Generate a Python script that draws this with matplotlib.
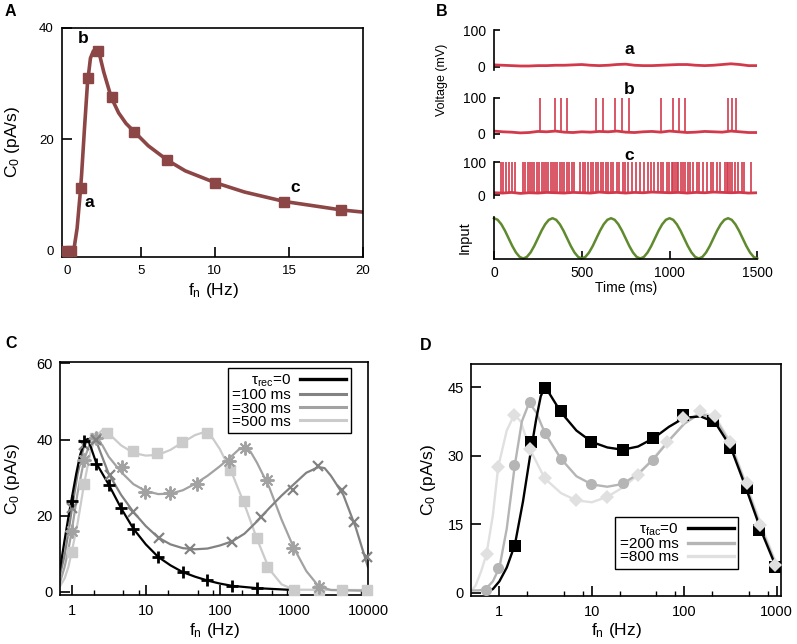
import matplotlib
matplotlib.use("Agg")
import matplotlib.pyplot as plt
import numpy as np
from matplotlib.lines import Line2D
from matplotlib.ticker import FixedLocator, NullFormatter, FixedFormatter

plt.rcParams['font.family'] = ['Liberation Sans', 'DejaVu Sans']
plt.rcParams['mathtext.fontset'] = 'custom'
plt.rcParams['mathtext.rm'] = 'Liberation Sans'
plt.rcParams['mathtext.it'] = 'Liberation Sans:italic'
plt.rcParams['mathtext.default'] = 'regular'

# ---------------- data ----------------
# panel A: C0 vs fn (linear)
a_marker_f = [0.0, 0.3, 0.95, 1.45, 2.1, 3.05, 4.55, 6.75, 10.0, 14.7, 18.5]
a_marker_c = [0.0, 0.0, 11.3, 31.0, 35.7, 27.5, 21.3, 16.3, 12.2, 8.8, 7.2]
a_curve_f = [0.0, 0.3, 0.5, 0.7, 0.9, 1.0, 1.2, 1.4, 1.6, 1.8, 2.0, 2.2, 2.5,
             3.0, 3.5, 4.0, 4.6, 5.5, 6.8, 8.0, 10.0, 12.0, 14.7, 17.0, 18.5, 20.0]
a_curve_c = [0.0, 0.0, 0.5, 4.0, 10.0, 13.5, 22.0, 30.0, 34.5, 35.8, 36.0, 35.3, 32.0,
             27.5, 24.7, 22.8, 21.2, 18.8, 16.2, 14.3, 12.2, 10.5, 8.8, 7.9, 7.3, 6.9]

# panel B: voltage traces (baseline every 50 ms) and spike times (ms)
trace_t = list(range(0, 1501, 50))
trace_a = [5, 4, 3, 2, 2, 3, 3, 4, 4, 5, 6, 4, 3, 4, 6, 7, 4, 3, 3, 4, 5, 6, 6, 4, 3, 4, 6, 8, 6, 3, 3]
trace_b = [8, 6, 5, 3, 4, 7, 6, 8, 5, 4, 6, 5, 7, 6, 8, 5, 4, 6, 7, 5, 8, 6, 4, 5, 7, 6, 5, 8, 6, 4, 4]
trace_c = [7, 6, 8, 5, 7, 6, 8, 7, 6, 8, 7, 6, 9, 7, 8, 6, 8, 7, 9, 8, 7, 8, 6, 8, 7, 9, 8, 7, 8, 6, 7]
spikes_b = [262, 347, 380, 414, 581, 622, 689, 731, 770, 954, 1021, 1055, 1087, 1334, 1357, 1378]
spikes_c = [38, 53, 68, 87, 102, 118,
            163, 177, 192, 205, 218, 230, 243, 258, 272, 285, 296, 309, 323, 334, 347, 361,
            376, 387, 400, 414, 429, 442, 456, 490, 505, 520, 537, 552, 566, 581, 594, 607,
            623, 638, 651, 665, 680, 699, 714, 733, 748, 765, 784, 807, 832, 857, 875, 894,
            913, 932, 951, 965, 984, 999, 1012, 1021, 1031, 1040, 1050, 1065, 1079, 1088,
            1103, 1116, 1135, 1154, 1168, 1192, 1211, 1236, 1249, 1268, 1287, 1316, 1325,
            1335, 1344, 1354, 1373, 1392, 1411, 1426, 1464]
# input: one read cycle (period 333 ms, 16 samples), repeated
input_cycle = [1.0, 0.96, 0.85, 0.69, 0.5, 0.31, 0.15, 0.04, 0.0, 0.04, 0.15, 0.31, 0.5, 0.69, 0.85, 0.96]
input_t = np.linspace(0, 1500, 73)
input_v = np.tile(input_cycle, 5)[:73]

# panel C: depression, tau_rec = 0, 100, 300, 500 ms
c_labels = [r'$\tau_{\rm rec}$=0', '=100 ms', '=300 ms', '=500 ms']
c0_mf = [1.0, 1.47, 2.15, 3.16, 4.64, 6.81, 14.7, 31.6, 68.1, 147, 316]
c0_mc = [24.0, 39.7, 33.6, 28.2, 22.0, 16.5, 9.2, 5.3, 3.1, 1.6, 1.0]
c0_cf = [0.695, 0.8, 0.9, 1.0, 1.15, 1.3, 1.5, 1.65, 1.8, 2.15, 3.16, 4.64, 6.81, 10, 14.7, 21.5,
         31.6, 46.4, 68.1, 100, 147, 316, 1000]
c0_cc = [6.0, 13.5, 19.5, 24.5, 31.0, 36.0, 39.7, 40.2, 38.2, 33.8, 28.2, 22.0, 16.6, 12.5, 9.2, 7.0,
         5.2, 4.0, 3.0, 2.2, 1.6, 1.0, 0.5]
c1_mf = [1.0, 1.47, 2.15, 3.3, 6.8, 15.3, 39, 145, 362, 985, 2090, 4450, 6500, 9700]
c1_mc = [22.0, 38.5, 40.0, 30.8, 21.1, 14.2, 11.3, 13.1, 19.6, 26.9, 33.0, 26.9, 18.3, 9.2]
c1_cf = [0.695, 0.8, 0.9, 1.0, 1.2, 1.47, 1.8, 2.15, 3.16, 4.64, 6.81, 10, 14.7, 21.5, 31.6, 46.4,
         68.1, 100, 147, 215, 316, 464, 681, 1000, 1468, 2154, 2600, 3162, 4642, 6813, 10000]
c1_cc = [4.5, 9.5, 15.5, 21.5, 31.0, 38.5, 40.5, 39.5, 31.0, 25.5, 21.0, 17.3, 14.3, 12.5, 11.5, 11.2,
         11.4, 12.2, 13.3, 15.3, 18.5, 22.0, 25.3, 28.3, 31.3, 32.8, 32.5, 30.5, 25.5, 17.0, 6.5]
c2_mf = [1.0, 1.47, 2.15, 4.74, 9.8, 21.3, 49, 131, 219, 430, 985, 2150]
c2_mc = [16.0, 34.7, 40.3, 32.8, 26.2, 26.1, 28.4, 34.3, 37.7, 29.5, 11.5, 1.4]
c2_cf = [0.695, 0.8, 0.9, 1.0, 1.2, 1.47, 1.8, 2.15, 2.6, 3.16, 4.64, 6.81, 10, 14.7, 21.5, 31.6,
         46.4, 68.1, 100, 147, 180, 220, 260, 316, 464, 681, 1000, 1468, 2154, 3162, 10000]
c2_cc = [2.5, 6.5, 11.0, 16.0, 26.0, 34.7, 39.5, 40.3, 38.5, 35.5, 31.5, 28.3, 26.5, 25.7, 25.8, 26.7,
         28.4, 30.5, 33.0, 35.8, 37.4, 37.8, 36.8, 34.0, 27.5, 19.0, 11.5, 5.5, 1.5, 0.5, 0.3]
c3_mf = [1.0, 1.48, 2.07, 2.97, 6.8, 14.1, 30.7, 66.5, 138, 209, 315, 430, 990, 2150, 4450, 9700]
c3_mc = [10.5, 28.4, 40.5, 41.8, 36.9, 36.4, 39.5, 41.8, 32.1, 23.9, 14.1, 6.6, 0.5, 0.5, 0.5, 0.5]
c3_cf = [0.695, 0.8, 0.9, 1.0, 1.2, 1.47, 1.8, 2.15, 2.6, 3.16, 4.64, 6.81, 10, 14.7, 21.5, 31.6,
         46.4, 60, 75, 100, 147, 215, 316, 464, 681, 1000, 10000]
c3_cc = [1.5, 3.5, 6.5, 10.5, 18.0, 28.4, 37.0, 41.0, 42.5, 41.6, 38.5, 36.5, 35.8, 36.0, 37.3, 39.3,
         41.2, 41.9, 41.2, 37.5, 31.0, 23.0, 14.0, 6.0, 2.0, 0.6, 0.5]

# panel D: facilitation, tau_fac = 0, 200, 800 ms
d_labels = [r'$\tau_{\rm fac}$=0', '=200 ms', '=800 ms']
d0_mf = [1.47, 2.17, 3.1, 4.63, 9.7, 21.5, 46.2, 97.5, 205, 311, 473, 646, 956]
d0_mc = [10.2, 33.1, 44.8, 39.7, 33.1, 31.3, 33.8, 38.9, 37.5, 31.6, 22.9, 13.7, 5.7]
d0_cf = [0.7, 0.85, 1.0, 1.2, 1.47, 1.8, 2.15, 2.5, 2.8, 3.1, 3.5, 4.64, 6.81, 10, 14.7, 21.5, 31.6,
         46.4, 68.1, 100, 150, 215, 316, 464, 681, 1000]
d0_cc = [0.0, 0.8, 2.5, 5.5, 10.5, 20.0, 30.0, 38.0, 43.0, 45.0, 43.5, 39.5, 35.5, 33.0, 31.8, 31.3,
         32.0, 33.8, 36.3, 38.3, 38.6, 37.3, 32.0, 23.0, 13.5, 5.3]
d1_mf = [0.71, 0.97, 1.45, 2.14, 3.1, 4.6, 9.7, 21.5, 46.0]
d1_mc = [0.7, 5.4, 28.0, 41.7, 35.0, 29.3, 23.7, 24.1, 29.1]
d1_cf = [0.489, 0.6, 0.71, 0.85, 1.0, 1.2, 1.47, 1.75, 2.1, 2.5, 3.1, 4.64, 6.81, 10, 14.7, 21.5,
         31.6, 46.4, 68.1, 100, 147, 215, 316, 464, 681, 1000]
d1_cc = [0.5, 0.5, 0.8, 2.5, 5.5, 14.0, 28.0, 37.5, 41.6, 39.5, 35.0, 29.3, 25.5, 23.7, 23.2, 23.8,
         26.0, 29.2, 33.3, 37.0, 39.2, 38.2, 32.5, 23.5, 14.0, 5.8]
d2_mf = [0.726, 0.97, 1.45, 2.14, 3.1, 6.7, 14.5, 31.8, 64.5, 98, 148, 215, 311, 473, 660, 956]
d2_mc = [8.5, 27.5, 38.9, 31.4, 25.1, 20.3, 21.0, 25.8, 33.1, 38.2, 39.7, 38.6, 33.1, 24.0, 14.8, 6.1]
d2_cf = [0.489, 0.55, 0.63, 0.726, 0.85, 0.97, 1.2, 1.45, 1.7, 2.14, 3.1, 4.64, 6.81, 10, 14.7,
         21.5, 31.6, 46.4, 68.1, 100, 147, 215, 316, 464, 681, 1000]
d2_cc = [0.3, 1.5, 4.5, 8.5, 17.0, 27.5, 35.5, 39.0, 37.5, 31.4, 25.0, 21.8, 20.2, 19.8, 21.0,
         23.0, 25.8, 29.5, 33.3, 37.0, 39.5, 38.6, 33.0, 24.0, 14.8, 6.1]

# ---------------- figure ----------------
W, H = 797, 644
fig = plt.figure(figsize=(W / 100, H / 100), dpi=100)


def px_axes(x0, y0, x1, y1):
    return fig.add_axes([x0 / W, 1 - y1 / H, (x1 - x0) / W, (y1 - y0) / H])


def ftext(x, y, s, **kw):
    fig.text(x / W, 1 - y / H, s, **kw)


def frame(ax, lw=1.2):
    for s in ax.spines.values():
        s.set_linewidth(lw)


# ---- A ----
brown = '#8c4646'
axA = px_axes(62, 27.5, 363, 257)
axA.plot(a_curve_f, a_curve_c, color=brown, lw=2.6, zorder=2)
axA.plot(a_marker_f, a_marker_c, 's', color=brown, ms=7.5, zorder=3, clip_on=False)
axA.set_xlim(-0.32, 20)
axA.set_ylim(-1.15, 40)
axA.set_xticks([0, 5, 10, 15, 20])
axA.set_yticks([0, 20, 40])
axA.tick_params(direction='in', length=7, width=1.2, labelsize=9.5, top=False, right=False)
axA.tick_params(axis='x', pad=6)
axA.tick_params(axis='y', pad=6)
frame(axA)
for s, x, y in [('a', 1.55, 8.7), ('b', 1.1, 38.0), ('c', 15.4, 11.4)]:
    axA.text(x, y, s, fontsize=12.5, fontweight='bold', ha='center', va='center')
ftext(13, 142, 'C$_0$ (pA/s)', rotation=90, ha='center', va='center', fontsize=12.5)
ftext(213, 291, 'f$_n$ (Hz)', ha='center', va='center', fontsize=12.5)

# ---- B ----
red = '#d23a4c'
green = '#5f8a2e'
bx0, bx1 = 494, 757.3
trace_boxes = [(30, 70.4), (97.7, 137.6), (162.3, 198.3)]
traces = [trace_a, trace_b, trace_c]
spikes = [[], spikes_b, spikes_c]
for (ty0, ty1), base, sp in zip(trace_boxes, traces, spikes):
    ax = px_axes(bx0, ty0, bx1, ty1)
    ax.plot(trace_t, base, color=red, lw=2.0)
    if sp:
        base_at = np.interp(sp, trace_t, base)
        ax.vlines(sp, base_at, 100, color=red, lw=1.2)
    ax.set_xlim(0, 1500)
    ax.set_ylim(-10, 100)
    for k in ['top', 'right', 'bottom']:
        ax.spines[k].set_visible(False)
    ax.spines['left'].set_linewidth(1.2)
    ax.set_xticks([])
    ax.set_yticks([0, 100])
    ax.tick_params(direction='in', length=4, width=1.2, labelsize=10, pad=6, right=False)
axI = px_axes(bx0, 217, bx1, 259.3)
axI.plot(input_t, input_v, color=green, lw=1.8, clip_on=False)
axI.set_xlim(0, 1500)
axI.set_ylim(-0.02, 1.03)
axI.spines['top'].set_visible(False)
axI.spines['right'].set_visible(False)
axI.spines['left'].set_linewidth(1.2)
axI.spines['bottom'].set_linewidth(1.2)
axI.set_yticks([])
axI.set_xticks([0, 500, 1000, 1500])
axI.tick_params(direction='in', length=6, width=1.2, labelsize=10, pad=5, top=False)
for s, y in [('a', 50), ('b', 90), ('c', 155)]:
    ftext(629, y, s, fontsize=12.5, fontweight='bold', ha='center', va='center')
ftext(441.5, 80, 'Voltage (mV)', rotation=90, ha='center', va='center', fontsize=9)
ftext(465, 238, 'Input', rotation=90, ha='center', va='center', fontsize=10.5)
ftext(626, 288, 'Time (ms)', ha='center', va='center', fontsize=10)


def log_axis(ax, majors, minors):
    ax.set_xscale('log')
    ax.xaxis.set_major_locator(FixedLocator(majors))
    ax.xaxis.set_major_formatter(FixedFormatter([str(m) for m in majors]))
    ax.xaxis.set_minor_locator(FixedLocator(minors))
    ax.xaxis.set_minor_formatter(NullFormatter())
    ax.tick_params(which='major', direction='in', length=7, width=1.2, labelsize=10.5,
                   top=False, right=False)
    ax.tick_params(which='minor', direction='in', length=3.5, width=1.0, top=False, right=False)
    ax.tick_params(axis='x', which='major', pad=6.5)
    ax.tick_params(axis='y', pad=5)
    frame(ax)


# ---- C ----
c_cols = ['#000000', '#828282', '#a2a2a2', '#cbcbcb']
axC = px_axes(60, 362.3, 368, 595)
curves_c = [(c0_cf, c0_cc), (c1_cf, c1_cc), (c2_cf, c2_cc), (c3_cf, c3_cc)]
marks_c = [(c0_mf, c0_mc, '+', 9, 2.0), (c1_mf, c1_mc, 'x', 7.5, 1.6),
           (c2_mf, c2_mc, (8, 2, 0), 10, 1.4), (c3_mf, c3_mc, 's', 7.5, 1)]
for i in [3, 2, 1, 0]:
    cf, cc = curves_c[i]
    axC.plot(cf, cc, color=c_cols[i], lw=1.6, zorder=2 + 0.1 * (3 - i))
for i in [3, 2, 1, 0]:
    mf, mc, mk, ms, mew = marks_c[i]
    axC.plot(mf, mc, ls='none', marker=mk, ms=ms, mew=mew, color=c_cols[i],
             zorder=3 + 0.1 * (3 - i), clip_on=False)
axC.set_xlim(0.695, 10000)
axC.set_ylim(-0.8, 60.3)
axC.set_yticks([0, 20, 40, 60])
minC = [m * 10 ** d for d in range(0, 4) for m in (2, 5, 8)]
log_axis(axC, [1, 10, 100, 1000, 10000], minC)
hC = [Line2D([], [], color=c, lw=2.4 if i == 0 else 2.2) for i, c in enumerate(c_cols)]
legC = axC.legend(hC, c_labels, loc='upper right', bbox_to_anchor=(0.944, 0.975),
                  borderaxespad=0, markerfirst=False, fancybox=False, edgecolor='black',
                  framealpha=1, fontsize=11, handlelength=3.0, handletextpad=0.6,
                  labelspacing=-0.05, borderpad=0.3)
legC.get_frame().set_linewidth(1.0)
ftext(12.5, 479, 'C$_0$ (pA/s)', rotation=90, ha='center', va='center', fontsize=12.5)
ftext(214, 630, 'f$_n$ (Hz)', ha='center', va='center', fontsize=12.5)

# ---- D ----
d_cols = ['#000000', '#b5b5b5', '#e0e0e0']
axD = px_axes(470.7, 364.3, 781, 596)
curves_d = [(d0_cf, d0_cc), (d1_cf, d1_cc), (d2_cf, d2_cc)]
marks_d = [(d0_mf, d0_mc, 's', 8), (d1_mf, d1_mc, 'o', 8), (d2_mf, d2_mc, 'D', 7)]
for i in [2, 1, 0]:
    cf, cc = curves_d[i]
    axD.plot(cf, cc, color=d_cols[i], lw=1.7, zorder=2)
for i in [0, 1, 2]:
    mf, mc, mk, ms = marks_d[i]
    axD.plot(mf, mc, ls='none', marker=mk, ms=ms, mew=0, color=d_cols[i], zorder=3 + 0.1 * i,
             clip_on=False)
axD.set_xlim(0.489, 1114)
axD.set_ylim(-0.72, 50)
axD.set_yticks([0, 15, 30, 45])
minD = [m * 10 ** d for d in range(0, 3) for m in (2, 5, 8)]
log_axis(axD, [1, 10, 100, 1000], minD)
hD = [Line2D([], [], color=c, lw=2.4) for c in d_cols]
legD = axD.legend(hD, d_labels, loc='upper right', bbox_to_anchor=(0.8624, 0.342),
                  borderaxespad=0, markerfirst=False, fancybox=False, edgecolor='black',
                  framealpha=1, fontsize=11, handlelength=3.0, handletextpad=0.6,
                  labelspacing=-0.05, borderpad=0.3)
legD.get_frame().set_linewidth(1.0)
ftext(428, 480, 'C$_0$ (pA/s)', rotation=90, ha='center', va='center', fontsize=12.5)
ftext(616, 630, 'f$_n$ (Hz)', ha='center', va='center', fontsize=12.5)

# panel letters
for s, x, y in [('A', 10, 12), ('B', 441.5, 12), ('C', 11, 344), ('D', 426, 345)]:
    ftext(x, y, s, fontsize=11.5, fontweight='bold', ha='center', va='center')

fig.savefig('out.png', dpi=100)
